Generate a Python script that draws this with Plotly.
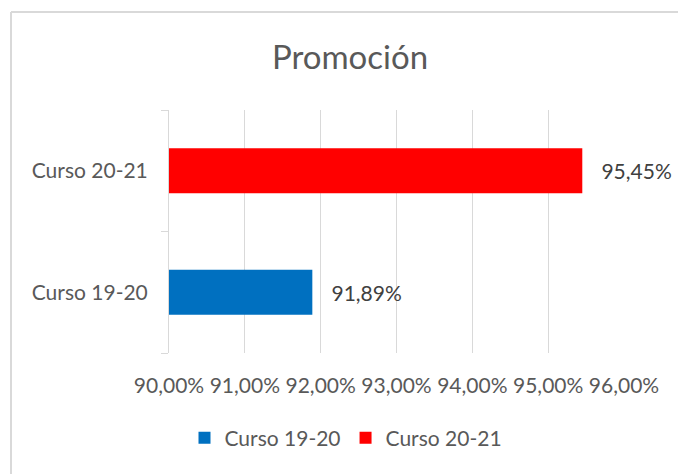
import plotly.graph_objects as go

categories = ["Curso 19-20", "Curso 20-21"]
values = [0.9189, 0.9545]
colors = ["#0070C0", "#FF0000"]
tick_vals = [0.90, 0.91, 0.92, 0.93, 0.94, 0.95, 0.96]

W, H = 678, 474
ml, mr, mt, mb = 169, 54, 110, 121
pw, ph = W - ml - mr, H - mt - mb

fig = go.Figure()
for cat, val, col in zip(categories, values, colors):
    fig.add_trace(go.Bar(
        y=[cat], x=[val], orientation="h", name=cat,
        marker=dict(color=col, line=dict(width=0)),
        width=0.37,
        text=[val], texttemplate="\u00a0\u00a0\u00a0%{x:.2%}", textposition="outside",
        textfont=dict(family="Lato", size=21, color="#404040"),
        cliponaxis=False, constraintext="none",
    ))

def px_x(p):
    return (p - ml) / pw

def px_y(p):
    return (H - mb - p) / ph

fig.update_layout(
    width=W, height=H,
    margin=dict(l=ml, r=mr, t=mt, b=mb),
    paper_bgcolor="white", plot_bgcolor="white",
    separators=",.",
    barmode="overlay",
    showlegend=True,
    font=dict(family="Lato", size=21, color="#595959"),
    title=dict(text="Promoción", x=350 / W, xanchor="center", xref="container",
               y=1 - 57 / H, yanchor="middle", yref="container",
               font=dict(family="Lato", size=33, color="#595959")),
    xaxis=dict(range=[0.90, 0.96], tickvals=tick_vals, tickformat=".2%",
               showgrid=True, gridcolor="#D9D9D9", gridwidth=1,
               zeroline=False, showline=False, ticks="",
               ticklabelstandoff=18,
               tickfont=dict(family="Lato", size=21, color="#595959"),
               fixedrange=True),
    yaxis=dict(categoryorder="array", categoryarray=categories,
               showline=True, linecolor="#D9D9D9", linewidth=1,
               ticks="outside", tickson="boundaries", ticklen=7, tickcolor="#D9D9D9",
               ticklabelstandoff=16,
               tickfont=dict(family="Lato", size=21, color="#595959"),
               showgrid=False, zeroline=False, fixedrange=True),
    legend=dict(orientation="h", x=px_x(346), xanchor="center",
                y=px_y(438), yanchor="middle",
                font=dict(family="Lato", size=21, color="#595959"),
                itemwidth=30, traceorder="normal"),
    shapes=[
        dict(type="line", xref="paper", yref="paper",
             x0=px_x(11), x1=px_x(680), y0=px_y(12), y1=px_y(12),
             line=dict(color="#D9D9D9", width=2), layer="below"),
        dict(type="line", xref="paper", yref="paper",
             x0=px_x(11), x1=px_x(11), y0=px_y(12), y1=px_y(476),
             line=dict(color="#D9D9D9", width=2), layer="below"),
    ],
)

fig.write_html("out.html")
